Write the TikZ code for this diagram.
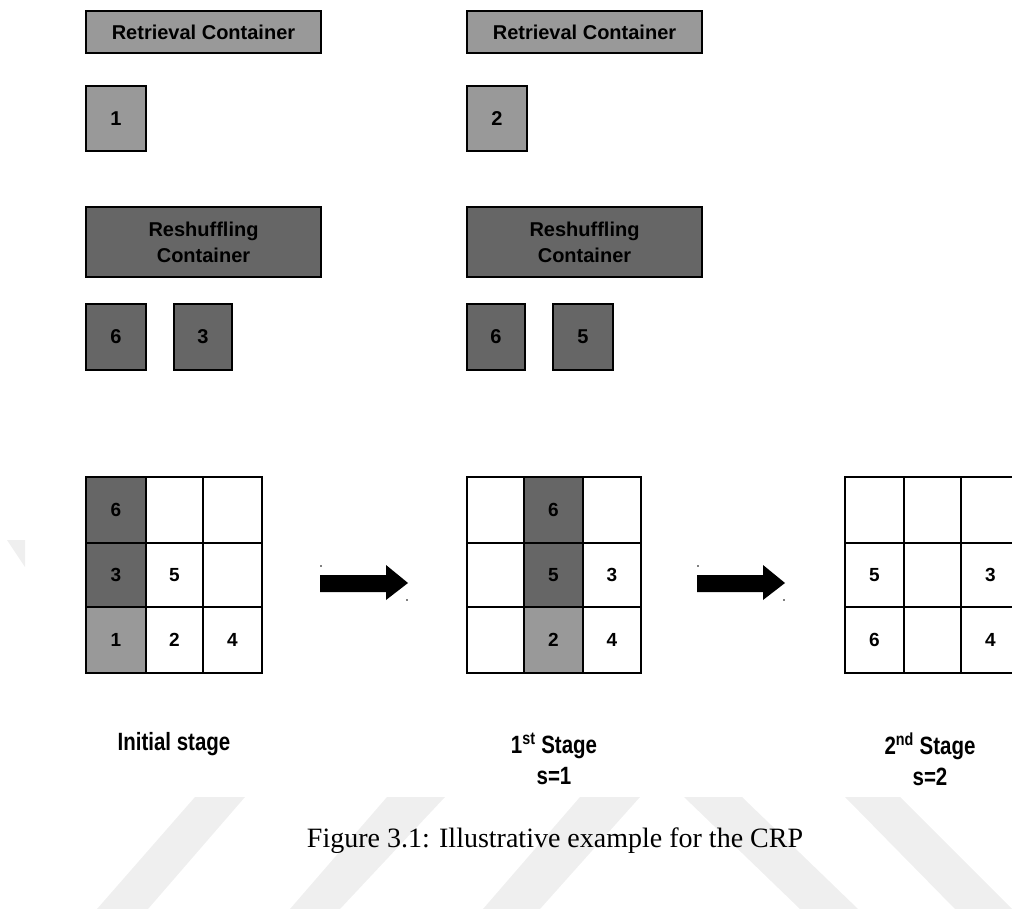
\documentclass[tikz,border=0pt]{standalone}
\usepackage{fontspec}
\setmainfont{Liberation Serif}
\setsansfont{Liberation Sans}
\newfontfamily\narrowsf[FakeStretch=0.82]{Liberation Sans}
\usepackage{tikz}
\usetikzlibrary{positioning}
\definecolor{retgray}{HTML}{999999}
\definecolor{resgray}{HTML}{666666}
\definecolor{wmgray}{HTML}{EFEFEF}
\tikzset{box/.style={draw=black, line width=1.6pt, inner sep=0pt, align=center,
    font=\sffamily\bfseries\fontsize{20}{26}\selectfont}}
\tikzset{retbox/.style={box, fill=retgray}}
\tikzset{resbox/.style={box, fill=resgray}}
\tikzset{cell/.style={draw=black, line width=1.5pt, inner sep=0pt}}
\tikzset{num/.style={font=\sffamily\bfseries\fontsize{19}{22}\selectfont}}
\tikzset{stagelabel/.style={align=center, font=\narrowsf\bfseries\fontsize{25}{31}\selectfont}}
\tikzstyle{blockarrow} = [fill=black]

\begin{document}
\begin{tikzpicture}[x=1pt, y=-1pt]
\useasboundingbox (0,0) rectangle (1012,909);
\clip (0,0) rectangle (1012,909);

% watermark stripes
\begin{scope}[wmgray]
\fill (195,797) -- (245,797) -- (148,909) -- (97,909) -- cycle;
\fill (387,797) -- (445,797) -- (340,909) -- (290,909) -- cycle;
\fill (580,797) -- (640,797) -- (540,909) -- (483,909) -- cycle;
\fill (684,797) -- (742,797) -- (858,909) -- (800,909) -- cycle;
\fill (845,797) -- (900,797) -- (1012,909) -- (955,909) -- cycle;
\fill (7,540) -- (25,540) -- (25,567) -- cycle;
\end{scope}

% containers on top
\node[retbox, minimum width=235pt, minimum height=42pt] (ret1) at (203.5,32) {Retrieval Container};
\node[retbox, minimum width=235pt, minimum height=42pt] (ret2) at (584.5,32) {Retrieval Container};
\node[retbox, minimum width=60pt, minimum height=65pt] (rc1) at (116,118.5) {1};
\node[retbox, minimum width=60pt, minimum height=65pt] (rc2) at (497,118.5) {2};

\node[resbox, minimum width=235pt, minimum height=70pt] (res1) at (203.5,242) {Reshuffling\\Container};
\node[resbox, minimum width=235pt, minimum height=70pt] (res2) at (584.5,242) {Reshuffling\\Container};
\node[resbox, minimum width=60pt, minimum height=66pt] (sa6) at (116,337) {6};
\node[resbox, minimum width=58pt, minimum height=66pt] (sa3) at (203,337) {3};
\node[resbox, minimum width=58pt, minimum height=66pt] (sb6) at (496,337) {6};
\node[resbox, minimum width=60pt, minimum height=66pt] (sb5) at (583,337) {5};

% shaded stacks
\fill[resgray] (86,477) rectangle (146,607);
\fill[retgray] (86,607) rectangle (146,673);
\fill[resgray] (524,477) rectangle (583,607);
\fill[retgray] (524,607) rectangle (583,673);

% bays
\foreach \gi/\xa/\xb/\xc/\xd in {1/86/146/203/262, 2/467/524/583/641, 3/845/904/961/1020}
  \foreach \cx/\xl/\xr in {1/\xa/\xb, 2/\xb/\xc, 3/\xc/\xd}
    \foreach \ri/\yt/\yb in {1/477/543, 2/543/607, 3/607/673}
      \node[cell, minimum width={(\xr-\xl)*1pt}, minimum height={(\yb-\yt)*1pt}]
        (g\gi-\ri\cx) at ({(\xl+\xr)/2},{(\yt+\yb)/2}) {};

\node[num] (a6) at (g1-11) {6};
\node[num] (a3) at (g1-21) {3};
\node[num] (a1) at (g1-31) {1};
\node[num] (a5) at (g1-22) {5};
\node[num] (a2) at (g1-32) {2};
\node[num] (a4) at (g1-33) {4};

\node[num] (b6) at (g2-12) {6};
\node[num] (b5) at (g2-22) {5};
\node[num] (b2) at (g2-32) {2};
\node[num] (b3) at (g2-23) {3};
\node[num] (b4) at (g2-33) {4};

\node[num] (c5) at (g3-21) {5};
\node[num] (c6) at (g3-31) {6};
\node[num] (c3) at (g3-23) {3};
\node[num] (c4) at (g3-33) {4};

% moves
\foreach \dx in {0,377} {
  \begin{scope}[xshift=\dx]
  \fill[blockarrow] (320,575) -- (386,575) -- (386,565) -- (408,583) -- (386,600) -- (386,592) -- (320,592) -- cycle;
  \fill (321,566) circle (0.9);
  \fill (407,600) circle (0.9);
  \end{scope}
}

% stage names
\node[stagelabel] (st0) at (174,744) {Initial stage};
\node[stagelabel] (st1) at (554,759) {1\textsuperscript{st} Stage\\s=1};
\node[stagelabel] (st2) at (930,759) {2\textsuperscript{nd} Stage\\s=2};

\node[font=\fontsize{28}{32}\selectfont] (cap) at (555,841) {Figure 3.1: Illustrative example for the CRP};
\end{tikzpicture}
\end{document}
